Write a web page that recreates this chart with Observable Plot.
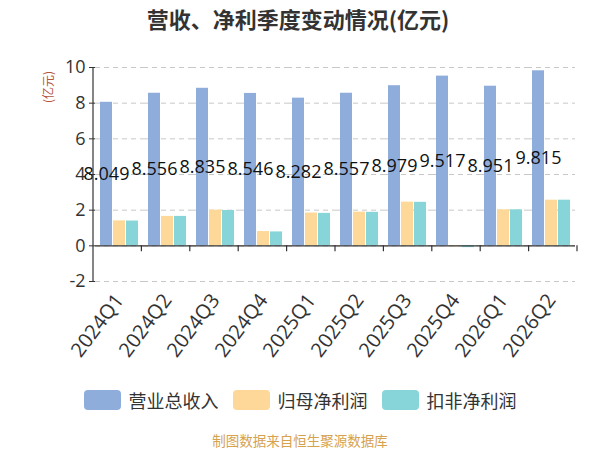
<!DOCTYPE html>
<html>
<head>
<meta charset="utf-8">
<script src="https://cdn.jsdelivr.net/npm/d3@7"></script>
<script src="https://cdn.jsdelivr.net/npm/@observablehq/plot@0.6"></script>
<style>
  body { margin: 0; background: #fff; font-family: "Open Sans", "Noto Sans CJK SC", sans-serif; }
  #wrap { position: relative; width: 600px; height: 450px; overflow: hidden; }
  #title { height: 36px; line-height: 36px; text-align: center; font-size: 22px; font-weight: bold; color: #333; font-family: "Noto Sans CJK SC", sans-serif; padding-right: 4px; }
  #unit { position: absolute; left: 47px; top: 87px; transform: translate(-50%, -50%) rotate(-90deg); font-size: 12px; color: #b5533c; font-family: "Noto Sans CJK SC", sans-serif; white-space: nowrap; }
  #legend { height: 48px; display: flex; justify-content: center; align-items: center; gap: 14px; font-size: 18px; color: #333; font-family: "Noto Sans CJK SC", sans-serif; }
  .item { display: flex; align-items: center; gap: 8px; }
  .sw { width: 37px; height: 20px; border-radius: 4px; }
  #caption { height: 32px; line-height: 32px; text-align: center; font-size: 13.5px; color: #d6a24d; font-family: "Noto Sans CJK SC", sans-serif; }
  g[aria-label^="fx-axis"] text { font-size: 20px; }
</style>
</head>
<body>
<div id="wrap">
  <div id="title">营收、净利季度变动情况(亿元)</div>
  <div id="unit">(亿元)</div>
  <div id="chart"></div>
  <div id="legend"></div>
  <div id="caption">制图数据来自恒生聚源数据库</div>
</div>
<script>
const quarters = ["2024Q1","2024Q2","2024Q3","2024Q4","2025Q1","2025Q2","2025Q3","2025Q4","2026Q1","2026Q2"];
const seriesNames = ["营业总收入", "归母净利润", "扣非净利润"];
const revenue = [8.049, 8.556, 8.835, 8.546, 8.282, 8.557, 8.979, 9.517, 8.951, 9.815];
const netProfit = [1.40, 1.65, 2.00, 0.80, 1.84, 1.89, 2.45, -0.05, 2.02, 2.56];
const deductedProfit = [1.39, 1.65, 1.98, 0.78, 1.82, 1.88, 2.44, -0.10, 2.02, 2.56];
const colors = ["#8eaddb", "#fed898", "#87d5d8"];
const yTicks = [-2, 0, 2, 4, 6, 8, 10];

const seriesValues = [revenue, netProfit, deductedProfit];
const data = [];
quarters.forEach((q, i) => {
  seriesNames.forEach((s, j) => data.push({quarter: q, series: s, value: seriesValues[j][i]}));
});
const revData = quarters.map((q, i) => ({quarter: q, series: seriesNames[0], value: revenue[i]}));

const chart = Plot.plot({
  width: 600,
  height: 340,
  marginTop: 31,
  marginLeft: 93,
  marginRight: 23,
  marginBottom: 95,
  style: {fontFamily: "'Open Sans', 'Noto Sans CJK SC', sans-serif", fontSize: "18px", color: "#333", background: "transparent", overflow: "visible"},
  fx: {domain: quarters, padding: 0, label: null, axis: "bottom", tickRotate: -53, tickSize: 0, tickPadding: 15},
  x: {domain: seriesNames, paddingInner: 0.08, paddingOuter: 0.32, axis: null},
  y: {domain: [-2, 10], ticks: yTicks, label: null, tickSize: 6, tickPadding: 4, tickFormat: d => String(d)},
  color: {domain: seriesNames, range: colors},
  marks: [
    Plot.ruleY(yTicks, {stroke: "#c8c8c8", strokeDasharray: "5,4", strokeWidth: 1}),
    Plot.barY(data, {fx: "quarter", x: "series", y: "value", fill: "series"}),
    Plot.ruleY([0], {stroke: "#333", strokeWidth: 1.2}),
    Plot.text(revData, {fx: "quarter", x: "series", y: d => d.value / 2, text: d => d.value.toFixed(3), fontSize: 18, fill: "#111"})
  ]
});
document.getElementById("chart").appendChild(chart);

// axis line on the left and tick marks at category boundaries, from the plot's own scales
const svg = d3.select(chart.tagName.toLowerCase() === "svg" ? chart : chart.querySelector("svg"));
const ys = chart.scale("y");
const fxs = chart.scale("fx");
const yPix = v => ys.range[0] + (v - ys.domain[0]) / (ys.domain[1] - ys.domain[0]) * (ys.range[1] - ys.range[0]);
const fx0 = fxs.range[0], fx1 = fxs.range[1];
const step = (fx1 - fx0) / fxs.domain.length;
const g = svg.append("g").attr("stroke", "#333").attr("stroke-width", 1.2);
g.append("line").attr("x1", fx0).attr("x2", fx0).attr("y1", yPix(10)).attr("y2", yPix(-2));
for (let i = 1; i <= fxs.domain.length; i++) {
  const x = fx0 + i * step;
  g.append("line").attr("x1", x).attr("x2", x).attr("y1", yPix(0)).attr("y2", yPix(0) + 6);
}

const legend = document.getElementById("legend");
seriesNames.forEach((s, i) => {
  const it = document.createElement("div");
  it.className = "item";
  it.innerHTML = `<div class="sw" style="background:${colors[i]}"></div><span>${s}</span>`;
  legend.appendChild(it);
});
</script>
</body>
</html>
